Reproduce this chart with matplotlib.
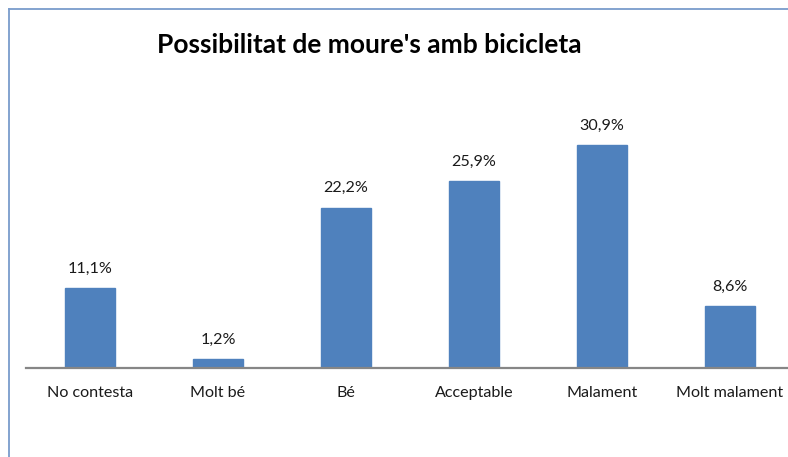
import matplotlib.pyplot as plt
from matplotlib.lines import Line2D

categories = ['No contesta', 'Molt bé', 'Bé', 'Acceptable', 'Malament', 'Molt malament']
values = [11.1, 1.2, 22.2, 25.9, 30.9, 8.6]
value_labels = ['11,1%', '1,2%', '22,2%', '25,9%', '30,9%', '8,6%']

W, H = 788, 457
fig = plt.figure(figsize=(W / 100, H / 100), dpi=100)
plt.rcParams['font.family'] = ['Lato', 'DejaVu Sans']

# axes placed in pixels; the right end runs past the figure like the original
x0, x1 = 26, 794
y_base = 368
ymax = 35
px_per_unit = 223 / 30.9
y_top = y_base - ymax * px_per_unit
ax = fig.add_axes([x0 / W, (H - y_base) / H, (x1 - x0) / W, (y_base - y_top) / H])

pos = range(len(categories))
ax.bar(pos, values, width=0.39, color='#4F81BD', edgecolor='#4F81BD')
ax.set_xlim(-0.5, len(categories) - 0.5)
ax.set_ylim(0, ymax)

for x, v, lab in zip(pos, values, value_labels):
    ax.annotate(lab, (x, v), xytext=(0, 14), textcoords='offset points',
                ha='center', va='center', fontsize=11.6, color='#1a1a1a')

ax.set_xticks(list(pos))
ax.set_xticklabels(categories, fontsize=11.6, color='#1a1a1a')
ax.tick_params(axis='x', length=0, pad=13)
ax.set_yticks([])
for s in ['top', 'right', 'left']:
    ax.spines[s].set_visible(False)
ax.spines['bottom'].set_color('#868686')
ax.spines['bottom'].set_linewidth(1.6)

fig.text(369 / W, 1 - 45 / H, "Possibilitat de moure's amb bicicleta",
         ha='center', va='center', fontsize=19, fontweight='bold')

# chart frame, only the top and left sides fall inside the image
frame_c = '#7A9CCC'
fig.add_artist(Line2D([8.5 / W, 8.5 / W], [0, 1 - 9 / H], color=frame_c, lw=1.3))
fig.add_artist(Line2D([8.5 / W, 1], [1 - 9 / H, 1 - 9 / H], color=frame_c, lw=1.3))

fig.savefig('out.png', dpi=100)
